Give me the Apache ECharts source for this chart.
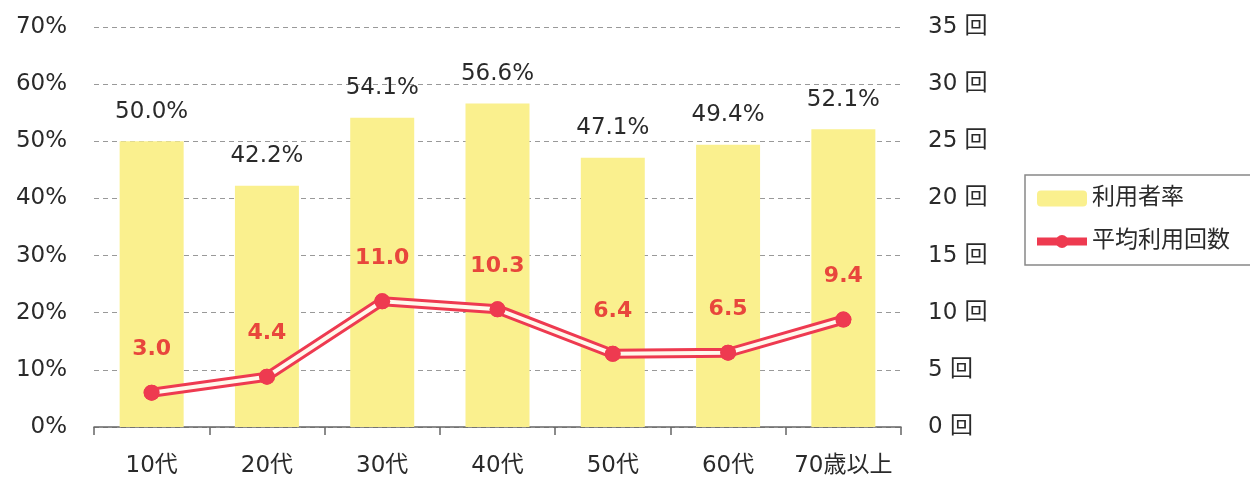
<!DOCTYPE html>
<html><head><meta charset="utf-8">
<script src="https://cdn.jsdelivr.net/npm/echarts@6/dist/echarts.min.js"></script>
<style>html,body{margin:0;padding:0;background:#fff}#c{width:1250px;height:480px}</style>
</head><body><div id="c"></div>
<script>
const categories = ['10代','20代','30代','40代','50代','60代','70歳以上'];
const usageRate = [50.0, 42.2, 54.1, 56.6, 47.1, 49.4, 52.1];
const avgCount = [3.0, 4.4, 11.0, 10.3, 6.4, 6.5, 9.4];
const barName = '利用者率';
const lineName = '平均利用回数';

const FONT = "'DejaVu Sans','Noto Sans CJK JP',sans-serif";
const RED = '#EE3A50';
const TXT = '#2a2a2a';
const chart = echarts.init(document.getElementById('c'));
chart.setOption({
  animation: false,
  textStyle: { fontFamily: FONT },
  grid: { left: 94, right: 349, top: 27, bottom: 53 },
  legend: {
    data: [barName, { name: lineName, lineStyle: { width: 8 } }],
    orient: 'vertical',
    left: 1025, top: 175,
    padding: [12, 40, 12, 8],
    borderColor: '#888', borderWidth: 1.5, borderRadius: 0,
    itemWidth: 50, itemHeight: 16, itemGap: 20,
    textStyle: { fontSize: 23, color: TXT, fontFamily: FONT }
  },
  xAxis: {
    type: 'category', data: categories,
    axisLine: { lineStyle: { color: '#666', width: 1.5 } },
    axisTick: { show: true, interval: 0, length: 8, lineStyle: { color: '#666', width: 1.5 } },
    axisLabel: { interval: 0, fontSize: 23, color: TXT, margin: 28, fontFamily: FONT }
  },
  yAxis: [
    { type: 'value', min: 0, max: 70, interval: 10,
      axisLabel: { formatter: '{value}%', fontSize: 23, color: TXT, margin: 27, fontFamily: FONT },
      axisLine: { show: false }, axisTick: { show: false },
      splitLine: { lineStyle: { type: [5, 4], color: '#999', width: 1 } } },
    { type: 'value', min: 0, max: 35, interval: 5,
      axisLabel: { formatter: '{value} 回', fontSize: 23, color: TXT, margin: 27, fontFamily: FONT },
      axisLine: { show: false }, axisTick: { show: false },
      splitLine: { show: false } }
  ],
  series: [
    { name: barName, type: 'bar', data: usageRate, barWidth: 64,
      itemStyle: { color: '#FAF08E' },
      label: { show: true, position: 'top', distance: 18, fontSize: 23, color: TXT,
               fontFamily: FONT, formatter: p => p.value.toFixed(1) + '%' } },
    { name: lineName, type: 'line', yAxisIndex: 1, data: avgCount,
      symbol: 'circle', symbolSize: 16, showSymbol: true,
      itemStyle: { color: RED }, lineStyle: { color: RED, width: 10 }, z: 3 },
    { name: '_inner', type: 'line', yAxisIndex: 1, data: avgCount, silent: true,
      symbol: 'none', lineStyle: { color: '#FFF8EC', width: 4 }, z: 4 },
    { name: '_marks', type: 'line', yAxisIndex: 1, data: avgCount, silent: true,
      symbol: 'circle', symbolSize: 16, lineStyle: { width: 0, opacity: 0 },
      itemStyle: { color: RED }, z: 5,
      label: { show: true, position: 'top', distance: 24, fontSize: 22, fontWeight: 'bold',
               color: '#E8463C', fontFamily: FONT, formatter: p => p.value.toFixed(1) } }
  ]
});
</script></body></html>
